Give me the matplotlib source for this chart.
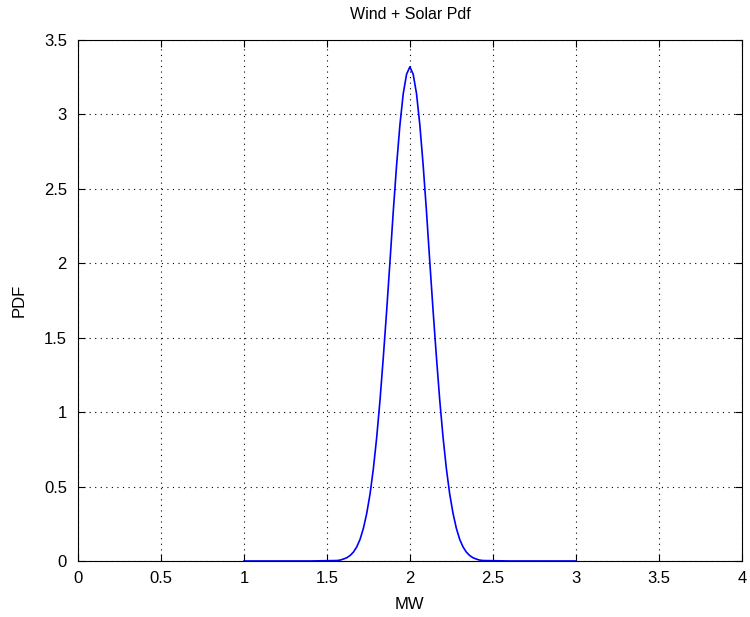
import matplotlib
matplotlib.use("Agg")
import matplotlib.pyplot as plt

# Values
mw = [1.00, 1.20, 1.40, 1.56, 1.58, 1.60, 1.62, 1.64, 1.66, 1.68, 1.70, 1.72, 1.74,
      1.76, 1.78, 1.80, 1.82, 1.84, 1.86, 1.88, 1.90, 1.92, 1.94, 1.96, 1.98,
      2.00, 2.02, 2.04, 2.06, 2.08, 2.10, 2.12, 2.14, 2.16, 2.18, 2.20, 2.22,
      2.24, 2.26, 2.28, 2.30, 2.32, 2.34, 2.36, 2.38, 2.40, 2.42, 2.44, 2.60,
      2.80, 3.00]
pdf = [0.00, 0.00, 0.00, 0.003, 0.006, 0.013, 0.022, 0.037, 0.06, 0.095, 0.146, 0.22, 0.32,
       0.45, 0.62, 0.83, 1.08, 1.37, 1.68, 2.01, 2.35, 2.66, 2.93, 3.14, 3.27,
       3.32, 3.27, 3.14, 2.93, 2.66, 2.35, 2.01, 1.68, 1.37, 1.08, 0.83, 0.62,
       0.45, 0.32, 0.22, 0.146, 0.095, 0.06, 0.037, 0.022, 0.013, 0.006, 0.003, 0.00,
       0.00, 0.00]

x_ticks = [0, 0.5, 1, 1.5, 2, 2.5, 3, 3.5, 4]
x_labels = ["0", "0.5", "1", "1.5", "2", "2.5", "3", "3.5", "4"]
y_ticks = [0, 0.5, 1, 1.5, 2, 2.5, 3, 3.5]
y_labels = ["0", "0.5", "1", "1.5", "2", "2.5", "3", "3.5"]

plt.rcParams['font.family'] = ['Liberation Sans', 'DejaVu Sans']

fig = plt.figure(figsize=(7.5, 6.17), dpi=100)
ax = fig.add_axes([0.104, 0.0908, 0.885, 0.8443])
ax.plot(mw, pdf, color='#0000ff', linewidth=1.2)
ax.set_xlim(0, 4)
ax.set_ylim(0, 3.5)
ax.set_xticks(x_ticks)
ax.set_xticklabels(x_labels)
ax.set_yticks(y_ticks)
ax.set_yticklabels(y_labels)
ax.grid(True, color='black', linestyle=(0, (1, 4)), linewidth=0.8)
ax.tick_params(axis='x', pad=7)
ax.tick_params(axis='y', pad=8)
ax.tick_params(direction='in', top=True, right=True, length=5, width=0.8,
               labelsize=12, colors='black')
for s in ax.spines.values():
    s.set_linewidth(0.8)
ax.set_title("Wind + Solar Pdf", fontsize=11.5, pad=15)
ax.set_xlabel("MW", fontsize=12, labelpad=8)
ax.set_ylabel("PDF", fontsize=12, labelpad=12)
fig.savefig("out.png", dpi=100)
